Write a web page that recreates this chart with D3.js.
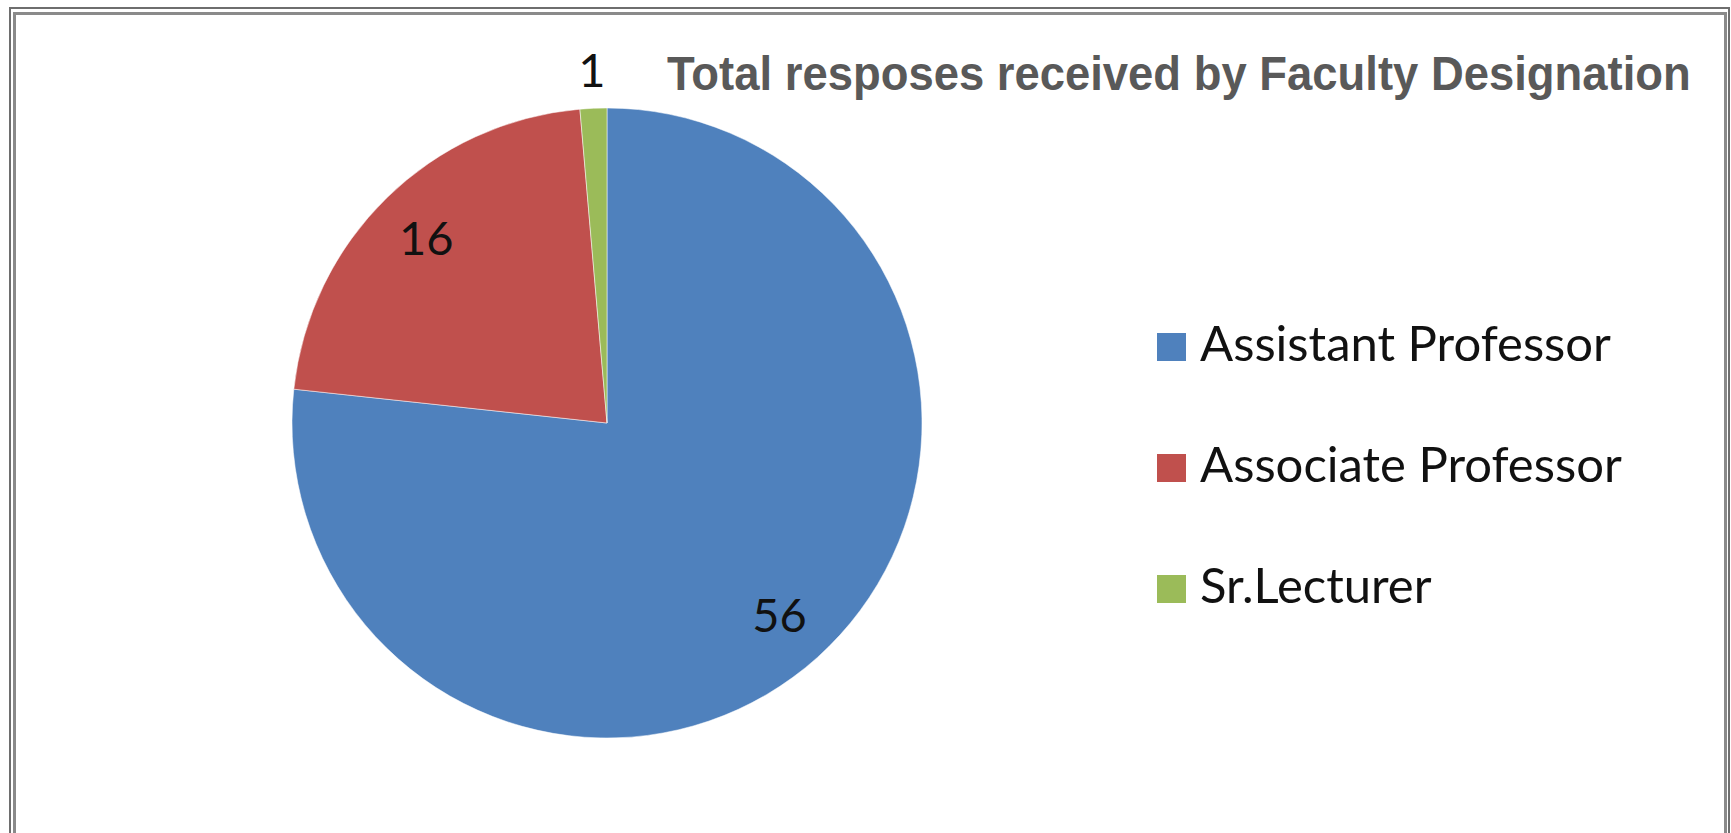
<!DOCTYPE html>
<html>
<head>
<meta charset="utf-8">
<script src="https://cdn.jsdelivr.net/npm/d3@7"></script>
<style>
  body { margin: 0; background: #fff; }
  svg { display: block; }
</style>
</head>
<body>
<svg id="chart" width="1731" height="833"></svg>
<script>
// chart data
const categories = ["Assistant Professor", "Associate Professor", "Sr.Lecturer"];
const counts = [56, 16, 1];
const colors = ["#4F81BD", "#C0504D", "#9BBB59"];
const title = "Total resposes received by Faculty Designation";

const svg = d3.select("#chart");
const W = 1731, H = 833;

// double frame around the chart area
svg.append("rect")
    .attr("x", 10).attr("y", 8)
    .attr("width", 1719).attr("height", H + 20)
    .attr("fill", "none").attr("stroke", "#6e6e6e").attr("stroke-width", 2);
svg.append("rect")
    .attr("x", 14.5).attr("y", 13.5)
    .attr("width", 1711).attr("height", H + 20)
    .attr("fill", "none").attr("stroke", "#8a8a8a").attr("stroke-width", 3);

const cx = 607, cy = 423, r = 315;

const pie = d3.pie().sort(null).value(d => d);
const arcs = pie(counts);
const arc = d3.arc().innerRadius(0).outerRadius(r);
const inLabel = d3.arc().innerRadius(r * 0.82).outerRadius(r * 0.82);
const outLabel = d3.arc().innerRadius(r * 1.12).outerRadius(r * 1.12);

const g = svg.append("g").attr("transform", `translate(${cx},${cy})`);

g.selectAll("path.slice")
    .data(arcs)
    .enter()
    .append("path")
    .attr("class", "slice")
    .attr("d", arc)
    .attr("fill", (d, i) => colors[i])
    .attr("stroke", "rgba(255,255,255,0.5)")
    .attr("stroke-width", 1);

g.selectAll("text.val")
    .data(arcs)
    .enter()
    .append("text")
    .attr("class", "val")
    .attr("transform", d => {
        // tiny slices get their label outside the pie
        let c = (d.endAngle - d.startAngle) < 0.2 ? outLabel.centroid(d) : inLabel.centroid(d);
        return "translate(" + c + ")";
    })
    .attr("text-anchor", "middle")
    .attr("dy", "0.35em")
    .attr("font-family", "Lato, 'Open Sans', sans-serif")
    .attr("font-size", 47)
    .attr("fill", "#111")
    .text(d => d.data);

// title - narrow it horizontally to fit the space, like the original
const titleText = svg.append("text")
    .attr("font-family", "'Liberation Sans', Arial, sans-serif")
    .attr("font-weight", "bold")
    .attr("font-size", 49)
    .attr("fill", "#595959")
    .text(title);
const natural = titleText.node().getComputedTextLength();
titleText.attr("transform", `translate(667,90) scale(${1024 / natural},1)`);

// legend
const legendY = d3.scaleBand().domain(categories).range([333, 333 + 121 * 3]).paddingInner(0);
const legend = svg.append("g");
const items = legend.selectAll("g")
    .data(categories)
    .enter()
    .append("g")
    .attr("transform", d => `translate(1157,${legendY(d)})`);

items.append("rect")
    .attr("width", 29).attr("height", 28)
    .attr("fill", (d, i) => colors[i]);

items.append("text")
    .attr("x", 43).attr("y", 28)
    .attr("font-family", "Lato, 'Open Sans', sans-serif")
    .attr("font-size", 49)
    .attr("fill", "#111")
    .text(d => d);
</script>
</body>
</html>
